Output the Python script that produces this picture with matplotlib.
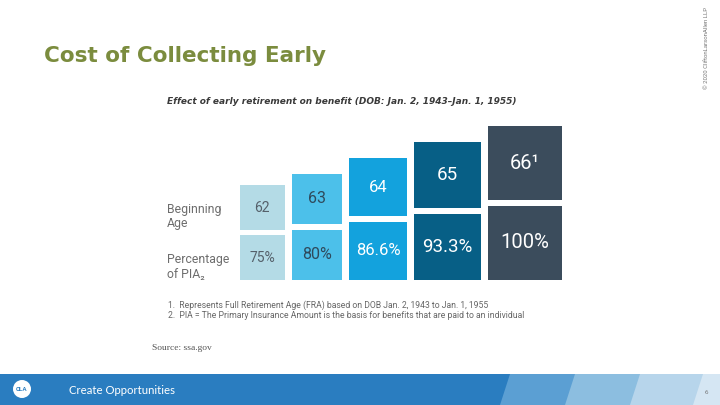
import matplotlib.pyplot as plt
from matplotlib.patches import Polygon, Circle

# data
ages = ["62", "63", "64", "65", "66\u00b9"]
pct_of_pia = [75, 80, 86.6, 93.3, 100]
pct_labels = ["75%", "80%", "86.6%", "93.3%", "100%"]
footnotes = [
    "1.  Represents Full Retirement Age (FRA) based on DOB Jan. 2, 1943 to Jan. 1, 1955",
    "2.  PIA = The Primary Insurance Amount is the basis for benefits that are paid to an individual",
]

# styles
tile_colors = ["#b4dbe6", "#4cc0ea", "#13a2dd", "#075f86", "#3b4c5c"]
text_colors = ["#55606a", "#2f4a5c", "white", "white", "white"]
font_sizes = [10, 11.5, 12, 13.5, 14.5]
gap = 7
vgap = 5.5
base = 280  # bottom of the tiles (pixels)

plt.rcParams['font.family'] = ['Roboto', 'DejaVu Sans']

fig = plt.figure(figsize=(7.2, 4.05), dpi=100)
ax = fig.add_axes([0, 0, 1, 1])
ax.set_xlim(0, 720)
ax.set_ylim(405, 0)
ax.axis('off')

# tile side grows with the percentage
sizes = [1.18 * p - 43.9 for p in pct_of_pia]
lefts = []
x = 240
for s in sizes:
    lefts.append(x)
    x += s + gap

# bottom row (percentage) and top row (age)
ax.bar(lefts, sizes, width=sizes, bottom=[base - s for s in sizes],
       align='edge', color=tile_colors, linewidth=0)
ax.bar(lefts, sizes, width=sizes, bottom=[base - 2 * s - vgap for s in sizes],
       align='edge', color=tile_colors, linewidth=0)

for i in range(len(ages)):
    cx = lefts[i] + sizes[i] / 2
    ax.text(cx, base - sizes[i] / 2, pct_labels[i], ha='center', va='center',
            fontsize=font_sizes[i], color=text_colors[i])
    ax.text(cx, base - 1.5 * sizes[i] - vgap, ages[i], ha='center', va='center',
            fontsize=font_sizes[i], color=text_colors[i])

# titles and labels
ax.text(44, 56, "Cost of Collecting Early", fontsize=15.5, fontweight='bold',
        color="#7b8c3e", family=['DejaVu Sans'], va='center')
ax.text(167, 101, "Effect of early retirement on benefit (DOB: Jan. 2, 1943\u2013Jan. 1, 1955)",
        fontsize=6.45, fontweight='bold', style='italic', color="#3a3a3a", va='center',
        family=['DejaVu Sans'])
ax.text(167, 216.5, "Beginning\nAge", fontsize=8.8, color="#6d6d6d", va='center',
        linespacing=1.2)
ax.text(167, 267.5, "Percentage\nof PIA\u2082", fontsize=8.8, color="#6d6d6d", va='center',
        linespacing=1.2)

for j, note in enumerate(footnotes):
    ax.text(168, 305 + j * 10, note, fontsize=6.2, color="#666666", va='center')

ax.text(152, 348, "Source: ssa.gov", fontsize=6.8, color="#555555", va='center',
        family=['Liberation Serif'])

ax.text(706, 48, "\u00a9 2020 CliftonLarsonAllen LLP", fontsize=4.3, color="#777777",
        rotation=90, ha='center', va='center')

# footer band
ax.add_patch(Polygon([(0, 374), (720, 374), (720, 405), (0, 405)],
                     closed=True, color="#2a7dc0", lw=0))
stripes = [(500, "#5b9fd3"), (565, "#8cbee0"), (630, "#b7d5eb"), (693, "#d5e6f3")]
for sx, col in stripes:
    ax.add_patch(Polygon([(sx, 405), (sx + 10, 374), (730, 374), (730, 405)],
                         closed=True, color=col, lw=0))
ax.add_patch(Circle((22, 389), 9, color="white", lw=0))
ax.text(22, 389.5, "CLA", fontsize=4.5, fontweight='bold', color="#2a7dc0",
        ha='center', va='center')
ax.text(69, 390, "Create Opportunities", fontsize=8.2, color="white", va='center',
        family=['Lato', 'DejaVu Sans'])
ax.text(706, 392, "6", fontsize=4.5, color="#777777", ha='center', va='center')

fig.savefig("out.png", dpi=100, facecolor="white")
